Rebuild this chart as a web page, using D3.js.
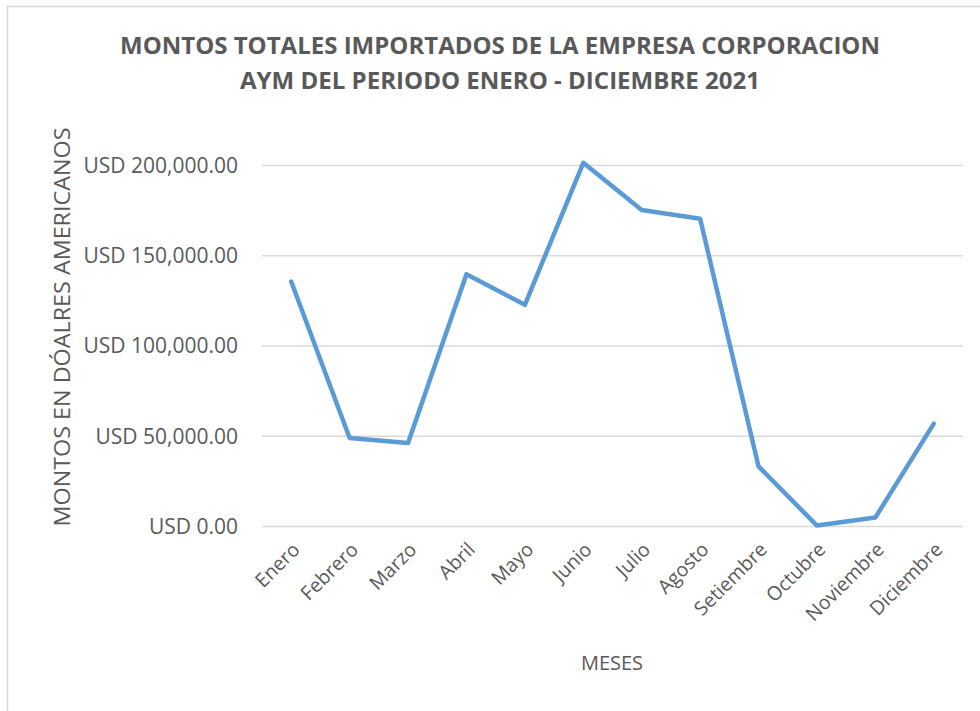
<!DOCTYPE html>
<html>
<head>
<meta charset="utf-8">
<script src="https://cdn.jsdelivr.net/npm/d3@7"></script>
<style>
  body { margin: 0; background: #fff; }
  text { font-family: "Open Sans", "Noto Sans", sans-serif; fill: #595959; }
</style>
</head>
<body>
<div id="chart"></div>
<script>
// datos del gráfico
const meses = ["Enero", "Febrero", "Marzo", "Abril", "Mayo", "Junio", "Julio", "Agosto", "Setiembre", "Octubre", "Noviembre", "Diciembre"];
const montos = [135700, 49000, 46300, 139800, 122800, 201500, 175300, 170500, 33300, 500, 5000, 57000];
const yTicks = [0, 50000, 100000, 150000, 200000];
const titulo = ["MONTOS TOTALES IMPORTADOS DE LA EMPRESA CORPORACION", "AYM DEL PERIODO ENERO - DICIEMBRE 2021"];
const tituloY = "MONTOS EN DÓALRES AMERICANOS";
const tituloX = "MESES";

const width = 980;
const height = 711;

const svg = d3.select("#chart").append("svg")
  .attr("width", width)
  .attr("height", height);

// borde del área del gráfico
svg.append("rect")
  .attr("x", 7.5).attr("y", 6.5)
  .attr("width", 990).attr("height", 720)
  .attr("fill", "none")
  .attr("stroke", "#d9d9d9")
  .attr("stroke-width", 1.5);

const x = d3.scaleBand()
  .domain(meses)
  .range([262, 963]);

const y = d3.scaleLinear()
  .domain([0, 200000])
  .range([526.5, 165.5]);

// líneas de cuadrícula
svg.append("g")
  .selectAll("line")
  .data(yTicks)
  .join("line")
  .attr("x1", 262).attr("x2", 963)
  .attr("y1", d => y(d)).attr("y2", d => y(d))
  .attr("stroke", "#d9d9d9")
  .attr("stroke-width", 1.5);

// etiquetas eje Y
const fmt = d3.format(",.2f");
svg.append("g")
  .selectAll("text")
  .data(yTicks)
  .join("text")
  .attr("x", 238)
  .attr("y", d => y(d))
  .attr("dy", "0.35em")
  .attr("text-anchor", "end")
  .style("font-size", "21px")
  .text(d => "USD " + fmt(d));

// etiquetas eje X (rotadas)
svg.append("g")
  .selectAll("text")
  .data(meses)
  .join("text")
  .attr("transform", d => `translate(${x(d) + x.bandwidth() / 2 + 5},${546}) rotate(-45)`)
  .attr("text-anchor", "end")
  .attr("dy", "0.35em")
  .style("font-size", "19.5px")
  .text(d => d);

// línea
const line = d3.line()
  .x((d, i) => x(meses[i]) + x.bandwidth() / 2)
  .y(d => y(d));

svg.append("path")
  .datum(montos)
  .attr("d", line)
  .attr("fill", "none")
  .attr("stroke", "#5b9bd5")
  .attr("stroke-width", 4.5)
  .attr("stroke-linejoin", "round")
  .attr("stroke-linecap", "round");

// título
svg.append("g")
  .selectAll("text")
  .data(titulo)
  .join("text")
  .attr("x", 500)
  .attr("y", (d, i) => 54 + i * 35)
  .attr("text-anchor", "middle")
  .attr("textLength", (d, i) => i === 0 ? 760 : 520)
  .attr("lengthAdjust", "spacingAndGlyphs")
  .style("font-size", "23px")
  .style("font-weight", "bold")
  .text(d => d);

// título eje Y
svg.append("text")
  .attr("transform", "translate(70,327) rotate(-90)")
  .attr("text-anchor", "middle")
  .attr("textLength", 399)
  .attr("lengthAdjust", "spacingAndGlyphs")
  .style("font-size", "22px")
  .text(tituloY);

// título eje X
svg.append("text")
  .attr("x", 612)
  .attr("y", 670)
  .attr("text-anchor", "middle")
  .style("font-size", "20px")
  .text(tituloX);
</script>
</body>
</html>
